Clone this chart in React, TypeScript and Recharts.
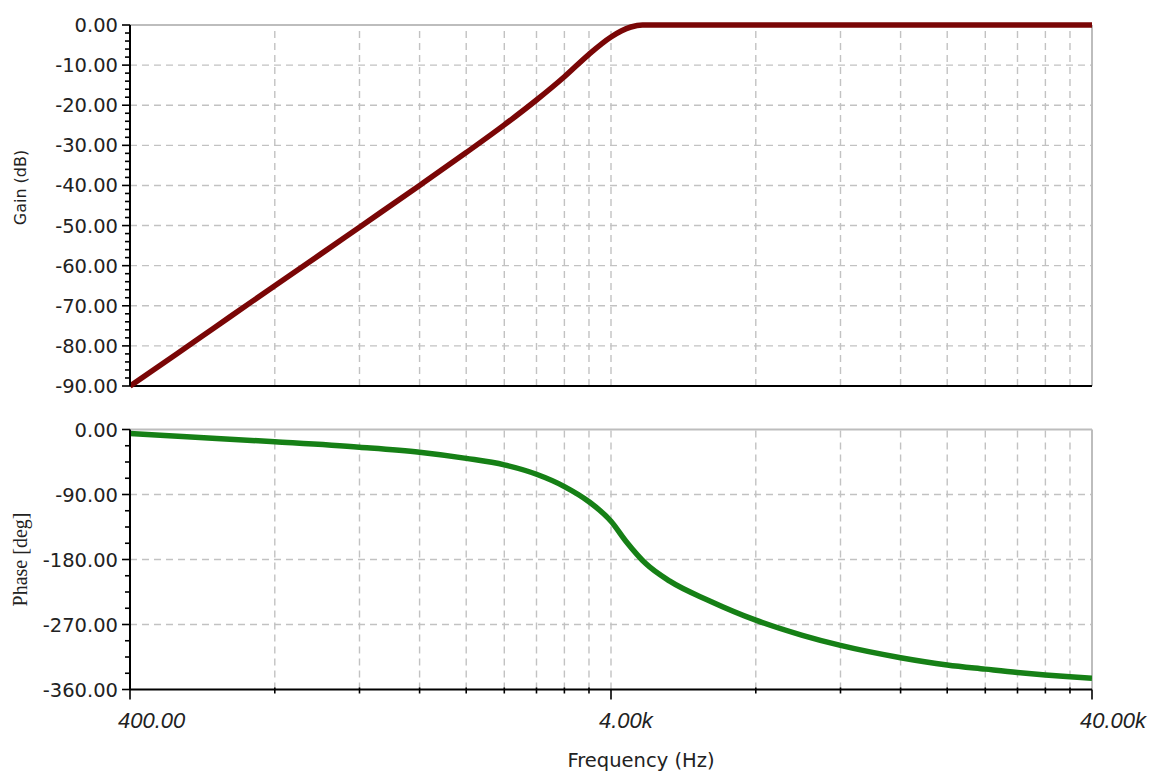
import { LineChart, Line, XAxis, YAxis, ReferenceLine, Label } from "recharts";

// Bode plot of the filter: gain (dB) on top, phase (deg) below, shared log frequency axis.
const FREQ_GAIN = [400, 500, 600, 800, 1000, 1200, 1600, 2000, 2400, 2800, 3200, 3600, 4000, 4200, 4400, 4650, 8000, 40000];
const GAIN_DB = [-90, -82, -75.4, -65, -57, -50.4, -40, -31.8, -24.9, -18.7, -12.9, -7.3, -3.0, -1.5, -0.5, 0, 0, 0];

const FREQ_PHASE = [400, 525, 800, 1200, 1600, 2000, 2400, 2800, 3200, 3600, 4000, 4300, 4730, 5300, 6400, 8000, 10000, 12000, 16000, 20000, 24000, 28000, 32000, 36000, 40000];
const PHASE_DEG = [-5.5, -10, -17, -24.5, -31.5, -40, -49, -62, -79, -100, -127, -155, -186, -210, -237, -264, -285, -299, -316, -326, -331.8, -336.5, -339.8, -342.4, -344.5];

const X_TICKS = [400, 800, 1200, 1600, 2000, 2400, 2800, 3200, 3600, 4000, 8000, 12000, 16000, 20000, 24000, 28000, 32000, 36000, 40000];
const X_GRID = [800, 1200, 1600, 2000, 2400, 2800, 3200, 3600, 4000, 8000, 12000, 16000, 20000, 24000, 28000, 32000, 36000];
const X_LABELS: Record<number, string> = { 400: "400.00", 4000: "4.00k", 40000: "40.00k" };

const GAIN_TICKS = Array.from({ length: 46 }, (_, i) => -2 * i);
const GAIN_MAJOR = [0, -10, -20, -30, -40, -50, -60, -70, -80, -90];
const GAIN_GRID = [-10, -20, -30, -40, -50, -60, -70, -80];

const PHASE_TICKS = Array.from({ length: 17 }, (_, i) => -22.5 * i);
const PHASE_MAJOR = [0, -90, -180, -270, -360];
const PHASE_GRID = [-90, -180, -270];

const gainData = FREQ_GAIN.map((f, i) => ({ f, v: GAIN_DB[i] }));
const phaseData = FREQ_PHASE.map((f, i) => ({ f, v: PHASE_DEG[i] }));

const GRID = "#c2c2c2";
const BORDER = "#bdbdbd";
const TXT = "#222";

const fmtY = (v: number) => (v === 0 ? "0.00" : v.toFixed(2));

function makeYTick(major: number[]) {
  return (p: any) => {
    const { x, y, payload } = p;
    const isMajor = major.includes(payload.value);
    return (
      <g>
        <line x1={x - (isMajor ? 8 : 5)} x2={x} y1={y} y2={y} stroke="#000" strokeWidth={1.6} />
        {isMajor && (
          <text x={x - 12} y={y + 7} textAnchor="end" fontFamily="DejaVu Sans" fontSize={19.5} fill={TXT}>
            {fmtY(payload.value)}
          </text>
        )}
      </g>
    );
  };
}

function XTick(p: any) {
  const { x, y, payload } = p;
  const label = X_LABELS[payload.value];
  return (
    <g>
      <line x1={x} x2={x} y1={label ? y : y - 2} y2={label ? y + 10 : y + 4} stroke="#000" strokeWidth={1.6} />
      {label && (
        <text x={x - 12} y={y + 38.5} fontFamily="Liberation Sans" fontStyle="italic" fontSize={22} fill={TXT}>
          {label}
        </text>
      )}
    </g>
  );
}

const xProps = {
  dataKey: "f",
  type: "number" as const,
  scale: "log" as const,
  domain: [400, 40000],
  ticks: X_TICKS,
  interval: 0 as const,
  allowDataOverflow: true,
};

export default function App() {
  return (
    <div style={{ position: "absolute", left: 0, top: 0, width: 1152, height: 778, background: "#fff" }}>
      <div style={{ position: "absolute", left: 0, top: 0 }}>
        <LineChart width={1152} height={400} data={gainData} margin={{ top: 25, right: 60, bottom: 14, left: 0 }}>
          <XAxis {...xProps} hide />
          <YAxis
            type="number"
            domain={[-90, 0]}
            ticks={GAIN_TICKS}
            interval={0}
            width={130}
            tick={makeYTick(GAIN_MAJOR)}
            tickLine={false}
            tickSize={0}
            tickMargin={0}
            axisLine={{ stroke: "#000", strokeWidth: 2 }}
          >
            <Label value="Gain (dB)" angle={-90} position="center" dx={-45} dy={-18} fontFamily="DejaVu Sans" fontSize={16} fill={TXT} />
          </YAxis>
          {X_GRID.map((g) => (
            <ReferenceLine key={"vx" + g} x={g} stroke={GRID} strokeWidth={1.4} strokeDasharray="7 5" />
          ))}
          {GAIN_GRID.map((g) => (
            <ReferenceLine key={"hy" + g} y={g} stroke={GRID} strokeWidth={1.4} strokeDasharray="7 5" />
          ))}
          <ReferenceLine y={0} stroke={BORDER} strokeWidth={2} />
          <ReferenceLine x={40000} stroke={BORDER} strokeWidth={2} />
          <ReferenceLine y={-90} stroke="#000" strokeWidth={2} />
          <Line dataKey="v" type="monotone" stroke="#7a0606" strokeWidth={5.5} dot={false} isAnimationActive={false} />
        </LineChart>
      </div>
      <div style={{ position: "absolute", left: 0, top: 400 }}>
        <LineChart width={1152} height={378} data={phaseData} margin={{ top: 29.5, right: 60, bottom: 0, left: 0 }}>
          <XAxis
            {...xProps}
            height={88.5}
            tick={XTick}
            tickLine={false}
            tickSize={0}
            tickMargin={0}
            axisLine={{ stroke: "#000", strokeWidth: 2 }}
          >
            <Label value="Frequency (Hz)" position="insideBottom" offset={11} dx={30} fontFamily="DejaVu Sans" fontSize={19.5} fill={TXT} />
          </XAxis>
          <YAxis
            type="number"
            domain={[-360, 0]}
            ticks={PHASE_TICKS}
            interval={0}
            width={130}
            tick={makeYTick(PHASE_MAJOR)}
            tickLine={false}
            tickSize={0}
            tickMargin={0}
            axisLine={{ stroke: "#000", strokeWidth: 2 }}
          >
            <Label value="Phase  [deg]" angle={-90} position="center" dx={-45} fontFamily="Liberation Serif" fontSize={20} fill={TXT} />
          </YAxis>
          {X_GRID.map((g) => (
            <ReferenceLine key={"vx" + g} x={g} stroke={GRID} strokeWidth={1.4} strokeDasharray="7 5" />
          ))}
          {PHASE_GRID.map((g) => (
            <ReferenceLine key={"hy" + g} y={g} stroke={GRID} strokeWidth={1.4} strokeDasharray="7 5" />
          ))}
          <ReferenceLine y={0} stroke={BORDER} strokeWidth={2} />
          <ReferenceLine x={40000} stroke={BORDER} strokeWidth={2} />
          <Line dataKey="v" type="monotone" stroke="#168016" strokeWidth={5.5} dot={false} isAnimationActive={false} />
        </LineChart>
      </div>
    </div>
  );
}
